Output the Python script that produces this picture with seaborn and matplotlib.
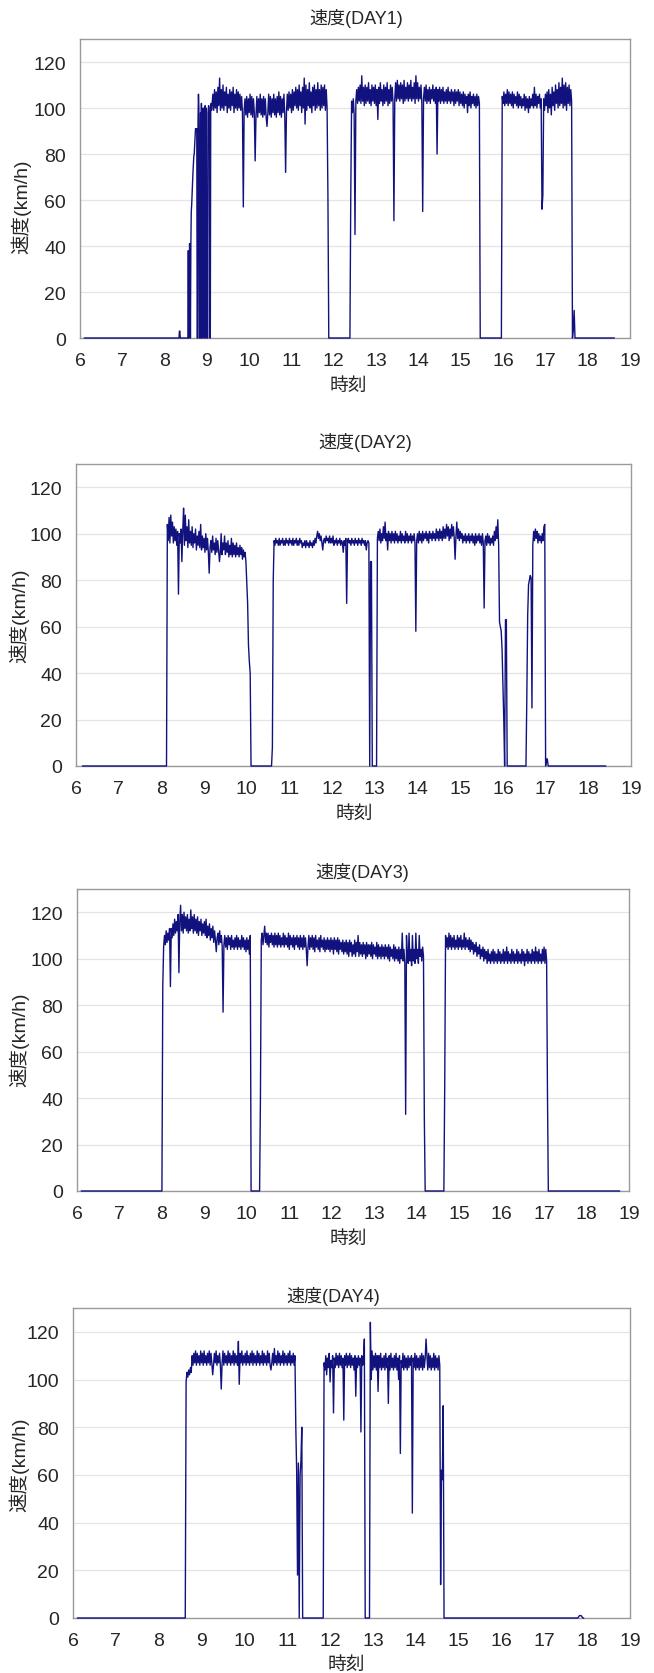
import matplotlib
matplotlib.use("Agg")
import matplotlib.pyplot as plt
import seaborn as sns

# --- data: speed (km/h) sampled in runs; each run = start hour, step (h), values ---
titles = ["速度(DAY1)", "速度(DAY2)", "速度(DAY3)", "速度(DAY4)"]
zero_start = [6.1, 6.15, 6.1, 6.1]
zero_end = [18.63, 18.41, 18.78, 17.92]

d1_start = [8.34, 8.55, 9.14, 12.38, 15.96]
d1_step = [0.01, 0.01, 0.02, 0.02, 0.02]
d1_speed = [
    [0, 3, 3, 0],
    [0, 38, 0, 0, 41, 35, 0, 40, 55, 58, 63, 68, 72, 76, 79, 80, 84, 88, 91, 91,
     90, 91, 0, 0, 95, 106, 100, 0, 0, 80, 98, 0, 102, 0, 0, 97, 100, 98, 0, 0,
     99, 101, 0, 100, 98, 0, 0, 0, 99, 101, 100, 98, 0, 0, 100, 102, 99, 101],
    [106, 99, 108, 100, 107, 98, 109, 101, 113, 99,
     108, 100, 110, 99, 107, 101, 109, 98, 106, 100,
     108, 99, 107, 101, 109, 98, 106, 100, 108, 99,
     107, 100, 106, 99, 105, 98, 57, 99, 104, 97,
     105, 96, 104, 98, 106, 97, 105, 96, 104, 98,
     77, 97, 105, 96, 104, 98, 106, 97, 104, 96,
     105, 97, 104, 96, 92, 98, 106, 97, 105, 96,
     104, 98, 106, 97, 104, 96, 105, 98, 107, 97,
     105, 96, 104, 98, 106, 97, 72, 98, 106, 99,
     107, 100, 106, 98, 108, 99, 107, 101, 109, 100,
     108, 99, 110, 101, 107, 98, 109, 100, 113, 93,
     110, 99, 108, 101, 111, 100, 107, 98, 109, 101,
     110, 99, 108, 100, 111, 101, 108, 99, 110, 100,
     109, 101, 110, 99, 108, 100, 62, 0],
    [0, 62, 103, 98, 104, 97, 45, 103, 108, 102,
     109, 103, 110, 102, 114, 103, 109, 101, 110, 102,
     109, 103, 111, 102, 108, 101, 110, 103, 109, 102,
     110, 101, 108, 95, 109, 102, 111, 103, 108, 101,
     110, 102, 109, 103, 111, 101, 108, 102, 110, 103,
     109, 102, 51, 104, 111, 103, 112, 104, 110, 103,
     111, 104, 110, 102, 112, 103, 109, 104, 111, 103,
     110, 104, 112, 103, 109, 104, 111, 102, 114, 104,
     111, 103, 109, 104, 110, 102, 55, 104, 109, 103,
     110, 102, 108, 103, 109, 102, 108, 104, 110, 103,
     108, 102, 109, 80, 108, 103, 109, 102, 108, 103,
     109, 102, 107, 103, 108, 102, 109, 103, 107, 102,
     108, 103, 107, 101, 108, 102, 107, 103, 108, 101,
     107, 102, 106, 101, 107, 100, 106, 102, 105, 98,
     106, 101, 107, 100, 105, 102, 106, 101, 105, 100,
     106, 101, 105, 102, 0],
    [0, 105, 102, 107, 101, 106, 102, 108, 101, 107,
     102, 106, 101, 107, 100, 106, 102, 105, 101, 107,
     100, 106, 101, 105, 100, 104, 101, 106, 99, 105,
     100, 104, 98, 105, 100, 104, 101, 106, 100, 109,
     101, 106, 100, 105, 102, 106, 100, 104, 56, 62,
     104, 99, 106, 101, 107, 98, 108, 100, 106, 97,
     109, 101, 107, 99, 110, 102, 108, 100, 111, 101,
     109, 102, 113, 100, 110, 101, 111, 99, 109, 102,
     110, 101, 108, 103, 0, 4, 12, 0],
]

d2_start = [8.12, 10.58, 13.04, 16.54]
d2_step = [0.02, 0.02, 0.02, 0.02]
d2_speed = [
    [0, 104, 97, 107, 96, 108, 99, 105, 96, 103,
     97, 102, 95, 101, 74, 100, 96, 102, 88, 101,
     111, 95, 108, 97, 103, 94, 106, 96, 101, 95,
     103, 94, 100, 96, 102, 93, 99, 95, 101, 94,
     104, 93, 99, 94, 98, 92, 100, 93, 98, 92,
     83, 94, 97, 92, 99, 93, 96, 91, 98, 92,
     97, 93, 88, 92, 100, 91, 96, 93, 99, 91,
     96, 92, 97, 90, 95, 91, 98, 90, 96, 91,
     95, 90, 96, 91, 94, 90, 95, 91, 94, 89,
     93, 90, 92, 88, 79, 70, 52, 45, 40, 0],
    [0, 8, 80, 97, 95, 98, 96, 97, 95, 98,
     95, 97, 96, 98, 95, 97, 95, 98, 96, 97,
     95, 98, 96, 97, 95, 98, 95, 97, 96, 98,
     95, 97, 95, 98, 96, 97, 94, 96, 95, 97,
     94, 97, 95, 96, 94, 97, 95, 96, 94, 97,
     95, 98, 96, 99, 101, 98, 100, 97, 99, 96,
     93, 97, 98, 96, 99, 97, 98, 96, 99, 96,
     98, 96, 99, 95, 97, 96, 98, 95, 97, 96,
     98, 95, 97, 96, 92, 97, 95, 98, 70, 97,
     98, 96, 97, 95, 98, 96, 97, 95, 98, 96,
     97, 95, 98, 96, 97, 95, 98, 96, 97, 95,
     97, 93, 96, 97, 96, 0, 88, 88, 0],
    [0, 98, 101, 97, 102, 96, 100, 97, 103, 98,
     105, 97, 100, 93, 101, 97, 100, 96, 101, 97,
     100, 96, 101, 97, 100, 96, 99, 97, 101, 96,
     100, 97, 99, 96, 101, 97, 100, 96, 99, 97,
     100, 96, 99, 97, 100, 96, 58, 97, 100, 96,
     101, 97, 100, 96, 101, 97, 100, 98, 101, 97,
     100, 96, 101, 98, 100, 97, 101, 98, 100, 97,
     102, 98, 101, 97, 102, 98, 101, 97, 103, 98,
     102, 98, 104, 99, 103, 97, 102, 98, 104, 99,
     103, 98, 89, 99, 105, 98, 102, 97, 101, 98,
     100, 96, 99, 97, 100, 96, 99, 97, 100, 96,
     99, 97, 100, 96, 99, 95, 100, 96, 99, 97,
     100, 96, 99, 95, 100, 96, 68, 97, 99, 95,
     100, 96, 99, 95, 98, 96, 99, 95, 101, 97,
     103, 98, 106, 95, 62, 60, 58, 50, 35, 20,
     0, 63, 63, 0],
    [0, 30, 65, 78, 80, 82, 81, 25, 95, 101,
     97, 102, 98, 101, 96, 100, 97, 99, 96, 100,
     97, 103, 104, 0, 3, 3, 0],
]

d3_start = [8.00, 10.30, 14.64]
d3_step = [0.02, 0.02, 0.02]
d3_speed = [
    [0, 88, 105, 110, 106, 112, 107, 111, 108, 113,
     88, 113, 109, 115, 110, 117, 111, 116, 112, 119,
     94, 116, 123, 112, 119, 111, 120, 113, 118, 112,
     119, 111, 117, 112, 121, 113, 118, 111, 119, 112,
     117, 111, 118, 110, 116, 112, 117, 110, 115, 111,
     116, 110, 117, 109, 114, 110, 115, 108, 113, 109,
     114, 107, 112, 108, 103, 109, 111, 106, 112, 107,
     110, 105, 77, 106, 110, 105, 109, 104, 110, 106,
     109, 104, 110, 105, 108, 104, 109, 105, 110, 104,
     109, 105, 108, 104, 110, 105, 109, 104, 108, 103,
     109, 104, 108, 102, 110, 0],
    [0, 40, 108, 111, 106, 110, 114, 107, 111, 106,
     111, 105, 110, 107, 111, 106, 110, 105, 111, 106,
     110, 105, 111, 106, 110, 105, 109, 106, 111, 105,
     110, 106, 109, 105, 111, 104, 110, 106, 109, 105,
     110, 104, 109, 106, 110, 105, 109, 104, 110, 105,
     109, 104, 110, 105, 109, 104, 97, 105, 110, 104,
     109, 105, 110, 104, 109, 103, 110, 105, 108, 104,
     109, 103, 110, 105, 108, 104, 109, 103, 108, 104,
     109, 104, 108, 103, 109, 104, 108, 102, 109, 104,
     108, 103, 109, 102, 108, 104, 107, 103, 108, 102,
     107, 103, 108, 102, 107, 101, 108, 103, 107, 101,
     106, 102, 108, 101, 107, 103, 110, 101, 107, 102,
     106, 101, 107, 102, 106, 100, 107, 101, 106, 102,
     106, 101, 107, 100, 106, 102, 105, 101, 107, 100,
     106, 101, 105, 100, 106, 101, 105, 100, 106, 101,
     105, 100, 106, 99, 105, 101, 104, 100, 106, 99,
     105, 100, 104, 99, 105, 98, 104, 100, 111, 99,
     104, 98, 33, 110, 100, 98, 111, 99, 104, 97,
     110, 99, 104, 98, 111, 100, 104, 98, 110, 101,
     104, 99, 105, 101, 31, 0],
    [0, 45, 110, 105, 109, 104, 111, 105, 110, 104,
     109, 105, 110, 104, 108, 105, 110, 104, 109, 105,
     110, 104, 108, 105, 111, 104, 109, 105, 108, 104,
     109, 103, 108, 104, 107, 102, 106, 103, 107, 101,
     105, 102, 106, 100, 104, 101, 105, 99, 104, 100,
     103, 98, 104, 99, 102, 98, 103, 99, 104, 98,
     103, 99, 102, 98, 104, 99, 103, 98, 102, 99,
     104, 98, 103, 99, 105, 98, 103, 99, 102, 98,
     104, 99, 103, 98, 102, 99, 104, 98, 103, 99,
     102, 98, 104, 99, 103, 97, 102, 99, 104, 98,
     103, 99, 102, 98, 104, 99, 103, 98, 105, 99,
     103, 98, 104, 99, 102, 98, 104, 99, 105, 98,
     104, 99, 42, 0],
]

d4_start = [8.62, 11.20, 11.84, 12.92, 14.58, 17.78]
d4_step = [0.02, 0.02, 0.02, 0.02, 0.02, 0.04]
d4_speed = [
    [0, 99, 103, 101, 104, 102, 105, 103, 110, 106,
     111, 107, 112, 106, 111, 107, 110, 106, 112, 107,
     111, 106, 112, 107, 110, 106, 111, 107, 112, 106,
     111, 107, 102, 106, 111, 107, 112, 106, 110, 107,
     111, 106, 96, 107, 112, 106, 111, 107, 110, 106,
     112, 107, 111, 106, 110, 107, 112, 106, 111, 107,
     110, 106, 116, 98, 111, 107, 112, 106, 110, 107,
     111, 106, 112, 107, 110, 106, 111, 107, 112, 106,
     111, 107, 110, 106, 112, 107, 111, 106, 110, 107,
     112, 106, 111, 107, 110, 106, 112, 107, 111, 106,
     104, 107, 111, 106, 113, 107, 110, 106, 112, 107,
     111, 106, 110, 107, 112, 106, 111, 107, 110, 106,
     111, 107, 112, 106, 110, 107, 111, 106, 110],
    [80, 62, 18, 65, 0, 60, 66, 80, 0],
    [0, 107, 104, 110, 102, 109, 105, 111, 99, 108,
     105, 110, 86, 109, 105, 111, 106, 110, 105, 111,
     106, 110, 105, 109, 83, 110, 106, 111, 105, 110,
     106, 111, 105, 110, 106, 109, 104, 110, 93, 109,
     105, 110, 106, 109, 78, 110, 106, 108, 117, 0],
    [0, 124, 100, 112, 104, 110, 105, 111, 104, 110,
     95, 110, 105, 111, 104, 109, 105, 110, 104, 111,
     105, 109, 90, 110, 104, 111, 105, 109, 104, 110,
     105, 111, 104, 109, 100, 110, 69, 108, 105, 111,
     104, 110, 105, 109, 104, 110, 105, 109, 106, 110,
     44, 109, 105, 111, 104, 110, 105, 109, 104, 110,
     105, 111, 104, 110, 105, 109, 117, 110, 104, 111,
     105, 110, 104, 109, 105, 111, 104, 110, 105, 109,
     104, 110, 106],
    [14, 62, 58, 89, 0],
    [0, 1, 1, 0],
]

days = [(d1_start, d1_step, d1_speed), (d2_start, d2_step, d2_speed),
        (d3_start, d3_step, d3_speed), (d4_start, d4_step, d4_speed)]

# --- layout (pixels of the 654x1674 image) ---
W, H = 654, 1674
axes_px = [(80, 40, 630, 339), (76, 465, 631, 767), (77, 890, 629, 1192), (73, 1309, 630, 1619)]
title_px = [(356, 18), (365, 443), (362, 873), (333, 1297)]
xlabel_px = [(348, 386), (354, 814), (348, 1239), (346, 1665)]
ylabel_px = [(21, 207), (19, 616), (19, 1040), (19, 1465)]

LINE = "#12127e"
FONTS = ["Liberation Sans Narrow", "Liberation Sans", "Noto Sans CJK JP"]

sns.set_style("white")
plt.rcParams["font.family"] = FONTS

fig = plt.figure(figsize=(W / 100, H / 100), dpi=100)

for k, (starts, steps, speeds) in enumerate(days):
    l, t, r, b = axes_px[k]
    ax = fig.add_axes([l / W, 1 - b / H, (r - l) / W, (b - t) / H])

    xs, ys = [zero_start[k]], [0]
    for s, d, vals in zip(starts, steps, speeds):
        for i, v in enumerate(vals):
            xs.append(s + i * d)
            ys.append(v)
    xs.append(zero_end[k])
    ys.append(0)

    sns.lineplot(x=xs, y=ys, ax=ax, color=LINE, linewidth=1.0,
                 estimator=None, sort=False, clip_on=False, zorder=3)

    ax.set_xlim(6, 19)
    ax.set_ylim(0, 130)
    ax.set_xticks(range(6, 20))
    ax.set_yticks(range(0, 121, 20))
    ax.yaxis.grid(True, color="#e4e4e4", linewidth=0.9)
    ax.xaxis.grid(False)
    for sp in ax.spines.values():
        sp.set_color("#9a9a9a")
        sp.set_linewidth(1.0)
    ax.tick_params(axis="x", direction="in", length=4, color="#b0b0b0",
                   labelsize=14, pad=10)
    ax.tick_params(axis="y", length=0, labelsize=14, pad=10)
    ax.set_xlabel("")
    ax.set_ylabel("")

    tx, ty = title_px[k]
    fig.text(tx / W, 1 - ty / H, titles[k], ha="center", va="center", fontsize=13)
    xx, xy = xlabel_px[k]
    fig.text(xx / W, 1 - xy / H, "時刻", ha="center", va="center", fontsize=13.5)
    yx, yy = ylabel_px[k]
    fig.text(yx / W, 1 - yy / H, "速度(km/h)", ha="center", va="center",
             rotation=90, fontsize=14)

fig.savefig("out.png", dpi=100)
